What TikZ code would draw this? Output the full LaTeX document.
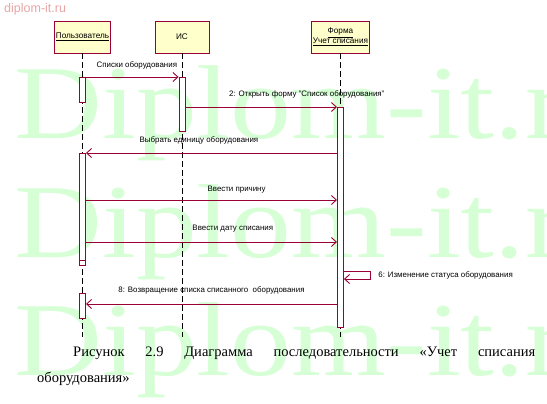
\documentclass[tikz,border=0pt]{standalone}
\usepackage{fontspec}
\setmainfont{Liberation Serif}
\setsansfont{Liberation Sans}
\usetikzlibrary{arrows.meta, positioning}
\definecolor{umlred}{HTML}{990033}
\definecolor{umlfill}{HTML}{FFFFCC}
\definecolor{wmgreen}{HTML}{D6FFD6}
\definecolor{wmred}{HTML}{E8A6A6}

\begin{document}
\begin{tikzpicture}[x=1pt, y=-1pt,
  head/.style={rectangle,draw=umlred,fill=umlfill,line width=0.9pt,minimum width=54pt,minimum height=32pt,inner sep=1pt,align=center,font=\sffamily\fontsize{8.2}{10}\selectfont},
  bar/.style={rectangle,draw=umlred,fill=white,line width=0.9pt,minimum width=6pt,inner sep=0pt,anchor=north},
  lifeline/.style={draw=black,line width=0.8pt,dash pattern=on 6pt off 3pt},
  msg/.style={draw=umlred,line width=0.9pt,-{Straight Barb[length=5pt,width=9pt]}},
  lbl/.style={font=\sffamily\fontsize{7.9}{9}\selectfont,text=black,inner sep=1pt},
  wm/.style={font=\fontsize{105}{105}\selectfont,text=wmgreen,xscale=1.16,inner sep=0pt,anchor=base west}
]
\useasboundingbox (0,0) rectangle (547,404);
\fill[white] (0,0) rectangle (547,404);
\clip (0,0) rectangle (547,404);

% watermark
\foreach \yy in {139,257,375}
  \node[wm] at (14,\yy) {Diplom-it.ru};
\node[font=\sffamily\fontsize{12.5}{14}\selectfont, text=wmred, anchor=base west, inner sep=0pt] (site) at (4,13) {diplom-it.ru};

% heads
\node[head] (user) at (82.5,37) {\underline{Пользователь}};
\node[head, right=44pt of user] (is) {ИС};
\node[head, right=102pt of is] (form) {\underline{Форма}\\\underline{Учет списания}};

\coordinate (end) at (0,337);
\draw[lifeline] (user.south) -- (user |- end);
\draw[lifeline] (is.south) -- (is |- end);
\draw[lifeline] (form.south) -- (form |- end);

% activations
\node[bar, minimum height=25pt] (u1) at (user |- 0,77) {};
\node[bar, minimum height=54pt] (s1) at (is |- 0,77) {};
\node[bar, minimum height=220pt] (f1) at (form |- 0,107) {};
\node[bar, minimum height=112pt] (u2) at (user |- 0,153) {};
\node[bar, minimum height=25pt] (u3) at (user |- 0,293) {};
\coordinate (u2cut) at (0,260);
\draw[umlred, line width=0.9pt] (u2.west |- u2cut) -- (u2.east |- u2cut);

% messages
\coordinate (m4) at (0,200);
\coordinate (m5) at (0,242);
\coordinate (m6) at (0,271);
\coordinate (m8) at (0,304);
\draw[msg] (u1.north east) -- (s1.north west) node[lbl, pos=.55, yshift=12pt] {Списки оборудования};
\draw[msg] (s1.east |- f1.north) -- (f1.north west) node[lbl, pos=.8, yshift=13pt] {2: Открыть форму "Список оборудования"};
\draw[msg] (f1.west |- u2.north) -- (u2.north east) node[lbl, pos=.55, yshift=13pt] {Выбрать единицу оборудования};
\draw[msg] (u2.east |- m4) -- (f1.west |- m4) node[lbl, pos=.6, yshift=10pt] {Ввести причину};
\draw[msg] (u2.east |- m5) -- (f1.west |- m5) node[lbl, pos=.585, yshift=13pt] {Ввести дату списания};
\draw[msg] (f1.east |- m6) -- ++(27,0) -- ++(0,8) node[lbl, midway, right=6pt] {6: Изменение статуса оборудования} -- (f1.east |- 0,279);
\draw[msg] (f1.west |- m8) -- (u3.east |- m8) node[lbl, pos=.5, yshift=14pt] {8: Возвращение списка списанного~ оборудования};

% caption
\node[anchor=north west, text width=498pt, inner sep=0pt, align=justify, font=\fontsize{14.5}{26}\selectfont] (cap) at (37,346.5)
  {\hspace*{36pt}Рисунок 2.9 Диаграмма последовательности «Учет списания\linebreak оборудования»};
\end{tikzpicture}
\end{document}
